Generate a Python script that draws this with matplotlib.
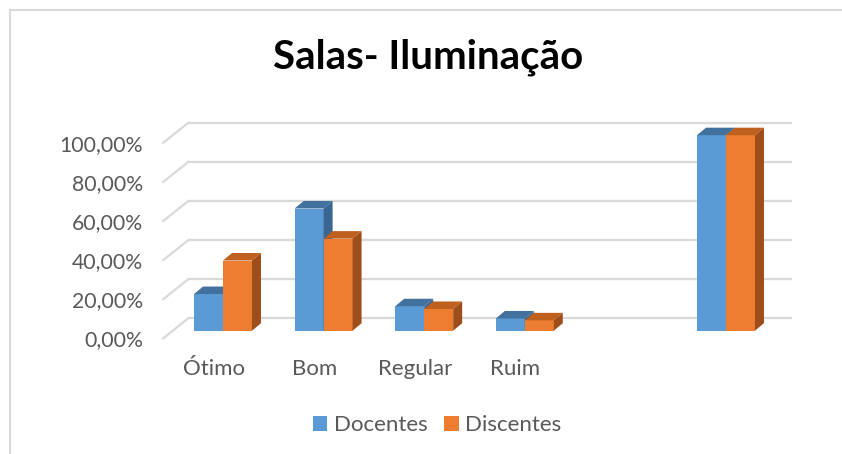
import numpy as np
import matplotlib
matplotlib.use("Agg")
import matplotlib.pyplot as plt
from matplotlib.patches import Polygon, Patch
from matplotlib.lines import Line2D

plt.rcParams['font.family'] = ['Lato', 'DejaVu Sans']

# ---- data ----
categories = ["Ótimo", "Bom", "Regular", "Ruim", "", ""]
docentes = [18.75, 62.5, 12.5, 6.25, np.nan, 100.0]
discentes = [35.9, 47.1, 11.1, 5.3, np.nan, 100.0]
series_names = ["Docentes", "Discentes"]
y_ticks = [0, 20, 40, 60, 80, 100]
title = "Salas- Iluminação"

# ---- style ----
front_cols = ["#5B9BD5", "#ED7D31"]
top_cols = ["#41719C", "#C0601F"]
side_cols = ["#3A6690", "#9E4E1B"]
grid_col = "#D9D9D9"
text_col = "#595959"

W, H = 842, 454
fig = plt.figure(figsize=(W / 100, H / 100), dpi=100)
ax = fig.add_axes([150 / W, (H - 345) / H, 650 / W, 235 / H])
ax.set_xlim(-0.7256, 5.7356)
ax.set_ylim(-7.315, 112.89)
for s in ax.spines.values():
    s.set_visible(False)
ax.set_facecolor('none')

# oblique projection offsets (data units)
dxb, dyb = 0.155, 6.34      # back wall
dxf, dyf = -0.094, -3.89    # front plane
ddx, ddy = 0.0895, 3.84     # bar depth
bw = 0.288

# back wall gridlines + diagonals
for t in y_ticks:
    ax.plot([-0.5 + dxb, 5.5 + dxb], [t + dyb, t + dyb], color=grid_col, lw=1.6, zorder=1,
            solid_capstyle='butt')
    ax.plot([-0.5 + dxf, -0.5 + dxb], [t + dyf, t + dyb], color=grid_col, lw=1.6, zorder=1)

# bars
n = len(categories)
for i in range(n):
    for k, vals in enumerate([docentes, discentes]):
        h = vals[i]
        if np.isnan(h):
            continue
        x0 = i - bw + k * bw
        x1 = x0 + bw
        z = 3 + i * 3 + k
        ax.bar(x0, h, width=bw, align='edge', color=front_cols[k], zorder=z, lw=0)
        ax.add_patch(Polygon([(x0, h), (x1, h), (x1 + ddx, h + ddy), (x0 + ddx, h + ddy)],
                             closed=True, facecolor=top_cols[k], lw=0, zorder=z))
        ax.add_patch(Polygon([(x1, 0), (x1, h), (x1 + ddx, h + ddy), (x1 + ddx, ddy)],
                             closed=True, facecolor=side_cols[k], lw=0, zorder=z))

# ticks on the front plane
ax.set_yticks([t + dyf for t in y_ticks])
ax.set_yticklabels([f"{t:.2f}".replace('.', ',') + "%" for t in y_ticks])
ax.set_xticks([i + dxf for i in range(n)])
ax.set_xticklabels(categories)
ax.tick_params(axis='y', length=0, pad=5, labelsize=15.3, labelcolor=text_col)
ax.tick_params(axis='x', length=0, pad=10, labelsize=16, labelcolor=text_col)

# title
fig.text(428 / W, 1 - 57 / H, title, ha='center', va='center', fontsize=29,
         fontweight='bold', color='black')

# legend
handles = [Patch(facecolor=front_cols[k], edgecolor='none') for k in range(2)]
leg = fig.legend(handles, series_names, loc='center', bbox_to_anchor=(437 / W, 1 - 425 / H),
                 ncol=2, frameon=False, fontsize=16, handlelength=0.65, handleheight=0.65,
                 handletextpad=0.3, columnspacing=0.75, labelcolor=text_col)

# chart border (only top-left visible in the crop)
fig.add_artist(Line2D([9.5 / W, 9.5 / W], [0, 1 - 10 / H], color=grid_col, lw=1.5,
                      transform=fig.transFigure))
fig.add_artist(Line2D([9.5 / W, 1], [1 - 10 / H, 1 - 10 / H], color=grid_col, lw=1.5,
                      transform=fig.transFigure))

fig.savefig("out.png", dpi=100)
